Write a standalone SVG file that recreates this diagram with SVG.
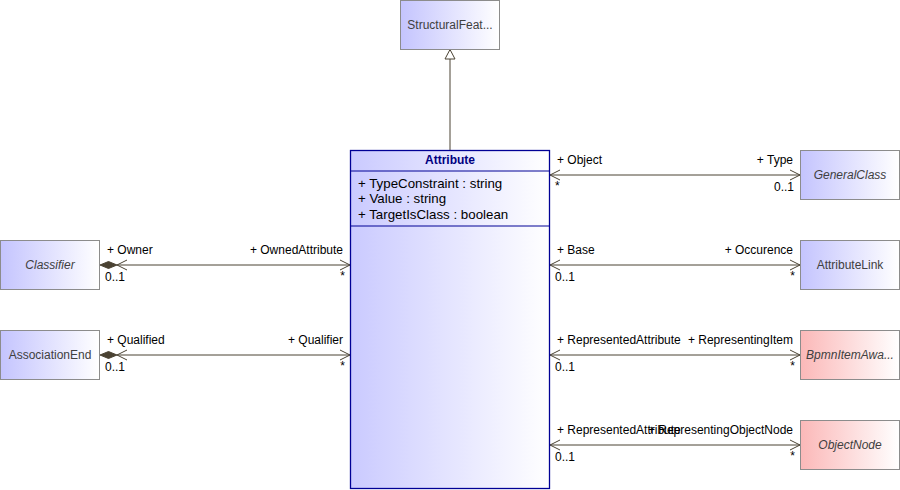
<svg xmlns="http://www.w3.org/2000/svg" width="900" height="490" viewBox="0 0 900 490">
<defs>
<linearGradient id="blue" x1="0" y1="0" x2="1" y2="0"><stop offset="0" stop-color="#c4c4fe"/><stop offset="1" stop-color="#ffffff"/></linearGradient>
<linearGradient id="blue2" x1="0" y1="0" x2="1" y2="0"><stop offset="0" stop-color="#cacaff"/><stop offset="1" stop-color="#ffffff"/></linearGradient>
<linearGradient id="red" x1="0" y1="0" x2="1" y2="0"><stop offset="0" stop-color="#fbb8b8"/><stop offset="1" stop-color="#ffffff"/></linearGradient>
<style>
.box{stroke:#8c8c8c;stroke-width:1}
.lbl{font-family:"Liberation Sans",Arial,sans-serif;font-size:12px;fill:#404040;text-anchor:middle}
.it{font-style:italic}
.t{font-family:"Liberation Sans",Arial,sans-serif;font-size:12px;fill:#000}
.a{font-family:"Liberation Sans",Arial,sans-serif;font-size:13.3px;fill:#000}
.e{text-anchor:end}
.ln{stroke:#4a4232;stroke-width:1;fill:none}
.dia{fill:#4a4232;stroke:#4a4232}
</style>
</defs>
<g id="connectors">
<line class="ln" x1="450" y1="150" x2="450" y2="59"/>
<polygon points="450,49.5 445,59 455,59" fill="#fff" stroke="#4a4232"/>
<line class="ln" x1="550" y1="175" x2="800" y2="175"/>
<polyline class="ln" points="560,170 550,175 560,180"/>
<polyline class="ln" points="790,170 800,175 790,180"/>
<line class="ln" x1="550" y1="265" x2="800" y2="265"/>
<polyline class="ln" points="560,260 550,265 560,270"/>
<polyline class="ln" points="790,260 800,265 790,270"/>
<line class="ln" x1="550" y1="355" x2="800" y2="355"/>
<polyline class="ln" points="560,350 550,355 560,360"/>
<polyline class="ln" points="790,350 800,355 790,360"/>
<line class="ln" x1="550" y1="445" x2="800" y2="445"/>
<polyline class="ln" points="560,440 550,445 560,450"/>
<polyline class="ln" points="790,440 800,445 790,450"/>
<line class="ln" x1="117" y1="265" x2="350" y2="265"/>
<polygon class="dia" points="100,265 108.5,261.5 117,265 108.5,268.5"/>
<polyline class="ln" points="127,260 117,265 127,270"/>
<polyline class="ln" points="340,260 350,265 340,270"/>
<line class="ln" x1="117" y1="355" x2="350" y2="355"/>
<polygon class="dia" points="100,355 108.5,351.5 117,355 108.5,358.5"/>
<polyline class="ln" points="127,350 117,355 127,360"/>
<polyline class="ln" points="340,350 350,355 340,360"/>
<text class="t" x="557" y="164">+ Object</text>
<text class="t e" x="793" y="164">+ Type</text>
<text class="t" x="555" y="190">*</text>
<text class="t e" x="794" y="191">0..1</text>
<text class="t" x="557" y="254">+ Base</text>
<text class="t e" x="793" y="254">+ Occurence</text>
<text class="t" x="555" y="281">0..1</text>
<text class="t e" x="795" y="280">*</text>
<text class="t" x="557" y="344">+ RepresentedAttribute</text>
<text class="t e" x="793" y="344">+ RepresentingItem</text>
<text class="t" x="555" y="371">0..1</text>
<text class="t e" x="795" y="370">*</text>
<text class="t" x="557" y="434">+ RepresentedAttribute</text>
<text class="t e" x="793" y="434">+ RepresentingObjectNode</text>
<text class="t" x="555" y="461">0..1</text>
<text class="t e" x="795" y="460">*</text>
<text class="t" x="107" y="254">+ Owner</text>
<text class="t e" x="343" y="254">+ OwnedAttribute</text>
<text class="t" x="105" y="281">0..1</text>
<text class="t e" x="345" y="280">*</text>
<text class="t" x="107" y="344">+ Qualified</text>
<text class="t e" x="343" y="344">+ Qualifier</text>
<text class="t" x="105" y="371">0..1</text>
<text class="t e" x="345" y="370">*</text>
</g>
<g id="StructuralFeature">
<rect class="box" x="400.5" y="0.5" width="99" height="49" fill="url(#blue)"/>
<text class="lbl" x="450" y="29">StructuralFeat...</text>
</g>
<g id="Attribute">
<rect x="350.5" y="150.5" width="199" height="338" fill="url(#blue2)" stroke="#000096" stroke-width="1.3"/>
<line x1="350.5" y1="171" x2="549.5" y2="171" stroke="#000096"/>
<line x1="350.5" y1="226" x2="549.5" y2="226" stroke="#000096"/>
<text x="450" y="164" font-family="Liberation Sans,Arial,sans-serif" font-size="12" font-weight="bold" fill="#000080" text-anchor="middle">Attribute</text>
<text class="a" x="358" y="188">+ TypeConstraint : string</text>
<text class="a" x="358" y="203">+ Value : string</text>
<text class="a" x="358" y="219">+ TargetIsClass : boolean</text>
</g>
<g id="Classifier">
<rect class="box" x="0.5" y="240.5" width="99" height="49" fill="url(#blue)"/>
<text class="lbl it" x="50" y="269">Classifier</text>
</g>
<g id="AssociationEnd">
<rect class="box" x="0.5" y="330.5" width="99" height="49" fill="url(#blue)"/>
<text class="lbl" x="50" y="359">AssociationEnd</text>
</g>
<g id="GeneralClass">
<rect class="box" x="800.5" y="150.5" width="99" height="49" fill="url(#blue)"/>
<text class="lbl it" x="850" y="179">GeneralClass</text>
</g>
<g id="AttributeLink">
<rect class="box" x="800.5" y="240.5" width="99" height="49" fill="url(#blue)"/>
<text class="lbl" x="850" y="269">AttributeLink</text>
</g>
<g id="BpmnItemAware">
<rect class="box" x="800.5" y="330.5" width="99" height="49" fill="url(#red)"/>
<text class="lbl it" x="850" y="359">BpmnItemAwa...</text>
</g>
<g id="ObjectNode">
<rect class="box" x="800.5" y="420.5" width="99" height="49" fill="url(#red)"/>
<text class="lbl it" x="850" y="449">ObjectNode</text>
</g>
</svg>
